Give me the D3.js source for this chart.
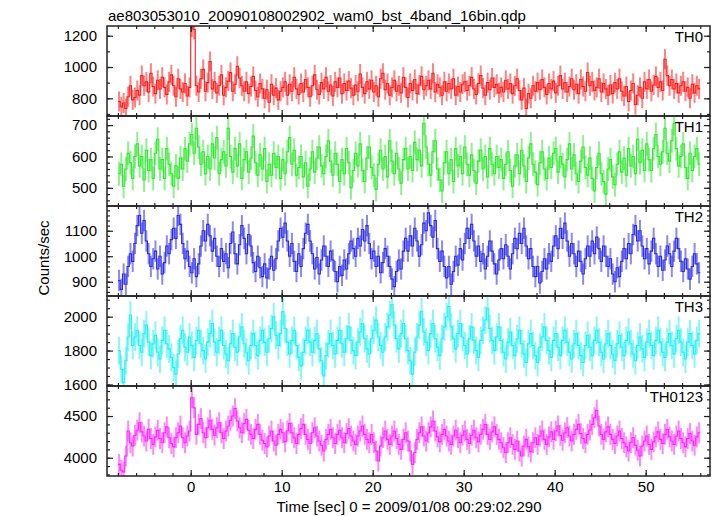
<!DOCTYPE html>
<html><head><meta charset="utf-8">
<script src="https://cdn.jsdelivr.net/npm/d3@7"></script>
<style>
html,body{margin:0;padding:0;background:#fff;}
text{font-family:"Liberation Sans",Arial,Helvetica,sans-serif;fill:#000;}
</style></head>
<body><svg id="c" width="717" height="516"></svg>
<script>
// ---- data ----
const title = "ae803053010_20090108002902_wam0_bst_4band_16bin.qdp";
const xLabel = "Time [sec] 0 = 2009/01/08 00:29:02.290";
const yLabel = "Counts/sec";
const panelNames = ["TH0","TH1","TH2","TH3","TH0123"];
const panelColors = ["#ff1a1a","#2ee82e","#2a2ae6","#22f0f0","#ff22ff"];
const timeStart = -8;      // sec, left edge of first bin
const binWidth = 0.25;     // sec
const xTicks = [0,10,20,30,40,50];
const yTicks = [[800,1000,1200],[500,600,700],[900,1000,1100],[1600,1800,2000],[4000,4500]];
const yMinorStep = [100,20,20,50,100];
const yDomains = [[687,1262],[442,729],[844,1197],[1591,2122],[3781,4860]];
const errHalf = [64,38,42,82,125];

const th0 = [
780,745,770,735,810,880,790,805, 850,820,945,880,905,840,960,875,
830,915,860,935,870,825,905,950, 880,810,925,860,840,895,815,870,
1255,1240,880,840,925,985,845,900, 1035,860,905,835,880,950,820,870,
910,965,845,890,1005,930,880,845, 905,830,875,940,850,810,895,860,
800,855,775,890,820,865,790,845, 870,905,820,890,845,935,860,825,
895,840,920,870,810,880,950,855, 825,900,860,935,845,885,815,905,
870,930,830,895,850,910,865,820, 885,845,955,870,830,905,860,915,
840,880,810,925,960,855,895,820, 870,915,845,880,835,935,870,805,
895,850,920,830,885,940,855,880, 915,860,960,840,890,870,820,905,
845,895,860,925,820,875,840,890, 905,850,880,935,860,825,895,945,
865,820,900,855,930,870,890,835, 870,840,915,860,895,830,880,925,
850,790,865,735,830,800,880,845, 900,855,920,870,825,895,860,910,
835,880,945,860,900,840,875,925, 855,890,830,920,875,845,965,880,
905,850,870,925,840,895,860,820, 885,830,900,860,925,845,815,875,
780,850,895,760,820,870,800,905, 860,920,845,885,940,870,905,850,
1050,945,880,920,860,895,835,880, 905,845,870,800,890,835,880,860];

const th1 = [
545,575,505,560,610,580,530,600, 640,570,600,525,620,555,590,530,
610,655,560,590,530,625,575,545, 505,570,530,595,560,625,585,640,
670,610,690,630,575,615,545,600, 560,640,595,660,545,590,615,570,
690,600,550,625,570,640,530,590, 615,550,595,665,580,540,605,560,
625,520,575,540,610,565,600,530, 590,545,615,660,575,620,540,565,
600,535,580,505,560,615,550,595, 630,570,545,600,650,585,540,610,
575,520,590,545,625,580,500,555, 610,570,640,555,520,595,630,565,
540,495,575,620,560,600,535,650, 585,545,610,560,515,590,625,560,
600,555,645,590,620,570,705,630, 575,540,615,650,560,525,490,580,
615,545,590,520,625,570,600,545, 630,575,540,605,555,515,585,620,
560,600,535,625,575,545,600,565, 590,530,575,615,555,505,570,605,
545,620,570,520,595,640,575,550, 510,580,615,560,530,595,565,610,
625,550,600,575,535,590,640,560, 605,545,520,585,630,565,540,595,
530,490,565,610,545,520,480,560, 590,535,510,575,615,550,595,540,
625,570,600,545,655,580,620,555, 640,590,555,625,670,600,575,615,
690,610,585,650,705,625,570,600, 640,565,530,610,555,600,625,575];

const th2 = [
905,870,930,890,960,1010,980,1050, 1120,1160,1090,1140,1060,1010,960,990,
1020,950,1000,930,975,1040,1010,1065, 1110,1070,1160,1125,1050,990,1020,960,
935,990,920,970,1040,1100,1060,1125, 1080,1020,1070,1000,960,1030,980,1010,
955,1050,1095,1010,970,1045,1120,1070, 1010,1085,1040,975,940,1000,955,920,
970,915,950,1000,945,990,1060,1110, 1075,1130,1060,1000,1050,980,940,1010,
960,1030,1090,1125,1060,1010,950,995, 930,985,1040,1000,960,1020,985,940,
900,960,925,985,950,1010,1060,1030, 1000,1070,1040,1105,1060,1120,1050,990,
1020,960,1000,935,975,1030,1000,960, 910,880,940,985,950,1020,1070,1020,
1080,1040,1110,1060,1000,1045,1130,1100, 1170,1120,1075,1140,1030,980,1020,960,
915,960,890,940,1000,965,1030,985, 1050,1110,1070,1125,1060,1000,1040,980,
1010,950,1000,1060,1020,970,930,985, 1030,990,1045,1000,950,1010,1070,1030,
1090,1050,1110,1040,990,1030,960,920, 960,895,940,990,950,1010,980,1040,
1080,1030,1110,1070,1130,1060,1000,1050, 1010,960,1020,980,930,990,1040,1000,
1060,1010,1075,1030,980,1040,1000,960, 990,930,900,955,920,980,1030,990,
1050,1010,1085,1120,1060,1100,1040,990, 1030,970,1020,1070,1010,960,1000,945,
985,1040,1010,960,1020,1070,1030,980, 940,990,950,910,960,1010,970,935];

const th3 = [
1800,1690,1610,1740,1880,2010,1830,1880, 1920,1830,1790,1900,1950,1850,1770,1840,
1890,1790,1750,1860,1920,1840,1810,1760, 1700,1660,1780,1870,1920,1820,1790,1880,
1830,1760,1860,1920,1840,1800,1750,1850, 1900,1960,1850,1790,1860,1920,1830,1780,
1740,1840,1900,1820,1790,1880,1940,1840, 1790,1740,1830,1900,1830,1770,1860,1920,
1850,1790,1870,1930,2000,1890,1830,1900, 2030,1930,1850,1780,1860,1920,1830,1760,
1710,1790,1860,1920,1850,1790,1860,1900, 1810,1740,1650,1770,1840,1900,1830,1780,
1860,1920,1840,1790,1870,1940,1860,1800, 1770,1850,1910,1960,1870,1810,1780,1870,
1920,1980,1880,1830,1790,1880,1940,2010, 2070,1950,1870,1810,1900,1960,1870,1800,
1740,1660,1790,1880,1950,2030,1910,1850, 1800,1900,1960,1870,1820,1770,1870,1940,
2000,2060,1940,1870,1810,1900,1960,1880, 1830,1780,1870,1940,1860,1800,1760,1860,
1920,1980,2050,1930,1860,1800,1880,1940, 1860,1790,1750,1850,1910,1830,1770,1870,
1920,1840,1780,1730,1840,1900,1830,1770, 1730,1820,1880,1940,1860,1800,1760,1860,
1900,1820,1770,1860,1920,1850,1790,1750, 1840,1900,1830,1770,1730,1830,1890,1820,
1770,1860,1920,1850,1790,1750,1840,1900, 1830,1780,1740,1840,1890,1820,1770,1860,
1910,1840,1780,1740,1830,1880,1810,1760, 1850,1900,1830,1770,1860,1920,1850,1790,
1760,1850,1900,1830,1780,1870,1920,1850, 1790,1750,1850,1900,1830,1780,1860,1900];

const th0123 = [
3920,3850,3830,4020,4320,4180,4140,4270, 4330,4420,4310,4260,4200,4340,4230,4160,
4250,4330,4230,4180,4300,4370,4240,4170, 4130,4240,4300,4380,4240,4180,4260,4320,
4720,4600,4280,4400,4470,4300,4240,4360, 4450,4340,4270,4360,4420,4300,4230,4320,
4380,4450,4500,4590,4440,4360,4300,4410, 4460,4330,4280,4230,4340,4400,4280,4210,
4170,4130,4260,4320,4200,4150,4280,4340, 4300,4190,4320,4410,4300,4240,4170,4280,
4350,4400,4280,4220,4170,4300,4360,4260, 4200,4150,4080,4220,4280,4340,4240,4170,
4280,4330,4240,4180,4290,4350,4260,4200, 4160,4260,4320,4380,4280,4220,4180,4280,
4180,4080,3960,4140,4240,4320,4220,4160, 4260,4320,4230,4160,4100,4220,4300,4200,
4080,3920,4060,4220,4300,4370,4260,4200, 4300,4370,4440,4320,4250,4190,4280,4340,
4260,4200,4160,4260,4330,4240,4180,4270, 4320,4220,4170,4270,4330,4240,4190,4280,
4340,4400,4280,4220,4310,4370,4280,4220, 4180,4120,4060,4180,4240,4160,4100,4200,
4080,4020,4140,4220,4130,4070,4180,4240, 4160,4260,4320,4220,4160,4250,4310,4220,
4320,4380,4270,4210,4300,4360,4260,4200, 4280,4340,4400,4290,4230,4180,4280,4330,
4400,4480,4570,4380,4280,4220,4310,4370, 4280,4220,4170,4260,4320,4230,4180,4130,
4080,4180,4240,4150,4090,4020,4140,4200, 4260,4160,4100,4190,4250,4310,4220,4170,
4280,4340,4250,4200,4160,4260,4320,4230, 4180,4130,4230,4290,4200,4150,4250,4300];

const seriesList = [th0, th1, th2, th3, th0123];

// ---- layout ----
const svg = d3.select("#c");
const L = 107, R = 710, T0 = 26, PH = 90;
const x = d3.scaleLinear().domain([-9.2, 57.07]).range([L, R]);
const xMinor = d3.range(-8, 57, 2);
const frameColor = "#222";
const FONT = '"Liberation Sans",Arial,Helvetica,sans-serif';

svg.append("text").attr("x", 108).attr("y", 21).attr("font-size", 15).text(title);

seriesList.forEach((vals, p) => {
  const top = T0 + p * PH, bot = top + PH;
  const y = d3.scaleLinear().domain(yDomains[p]).range([bot, top]);
  const col = panelColors[p];
  const g = svg.append("g");
  const cid = "clip" + p;
  svg.append("clipPath").attr("id", cid).append("rect")
     .attr("x", L).attr("y", top).attr("width", R - L).attr("height", PH);
  const dg = g.append("g").attr("clip-path", `url(#${cid})`);

  const bins = vals.map((v, i) => ({
    t0: timeStart + i * binWidth, t1: timeStart + (i + 1) * binWidth,
    tc: timeStart + (i + 0.5) * binWidth, v }));

  dg.selectAll("line.err").data(bins).join("line")
    .attr("x1", d => x(d.tc)).attr("x2", d => x(d.tc))
    .attr("y1", d => y(d.v - errHalf[p])).attr("y2", d => y(d.v + errHalf[p]))
    .attr("stroke", col).attr("stroke-opacity", 0.55).attr("stroke-width", 2);

  const pts = [];
  bins.forEach(d => { pts.push([d.t0, d.v]); pts.push([d.t1, d.v]); });
  dg.append("path").attr("d", d3.line().x(d => x(d[0])).y(d => y(d[1]))(pts))
    .attr("fill", "none").attr("stroke", col).attr("stroke-width", 1.1);

  // axes
  const yMinorTicks = d3.range(Math.ceil(yDomains[p][0] / yMinorStep[p]) * yMinorStep[p], yDomains[p][1], yMinorStep[p]);
  const mk = (ax, tr) => {
    const a = g.append("g").attr("transform", tr).call(ax);
    a.select(".domain").remove();
    a.selectAll("line").attr("stroke", frameColor).attr("stroke-width", 1.2);
    a.selectAll("text").attr("font-size", 15).attr("fill", "#000").attr("font-family", FONT);
    return a;
  };
  mk(d3.axisLeft(y).tickValues(yMinorTicks).tickSize(-3).tickFormat(""), `translate(${L},0)`);
  mk(d3.axisRight(y).tickValues(yMinorTicks).tickSize(-3).tickFormat(""), `translate(${R},0)`);
  mk(d3.axisLeft(y).tickValues(yTicks[p]).tickSize(-6).tickPadding(10).tickFormat(d3.format("d")), `translate(${L},0)`);
  mk(d3.axisRight(y).tickValues(yTicks[p]).tickSize(-6).tickFormat(""), `translate(${R},0)`);
  mk(d3.axisTop(x).tickValues(xMinor).tickSize(-3).tickFormat(""), `translate(0,${top})`);
  mk(d3.axisTop(x).tickValues(xTicks).tickSize(-6).tickFormat(""), `translate(0,${top})`);
  mk(d3.axisBottom(x).tickValues(xMinor).tickSize(-3).tickFormat(""), `translate(0,${bot})`);
  mk(d3.axisBottom(x).tickValues(xTicks).tickSize(-6).tickPadding(5)
      .tickFormat(p === 4 ? d3.format("d") : ""), `translate(0,${bot})`);

  g.append("rect").attr("x", L).attr("y", top).attr("width", R - L).attr("height", PH)
    .attr("fill", "none").attr("stroke", frameColor).attr("stroke-width", 1.5);

  g.append("text").attr("x", 703).attr("y", top + 16).attr("text-anchor", "end")
    .attr("font-size", 15).text(panelNames[p]);
});

svg.append("text").attr("transform", "translate(49,258) rotate(-90)")
  .attr("text-anchor", "middle").attr("font-size", 15).text(yLabel);
svg.append("text").attr("x", 409).attr("y", 512)
  .attr("text-anchor", "middle").attr("font-size", 15).text(xLabel);
</script></body></html>
